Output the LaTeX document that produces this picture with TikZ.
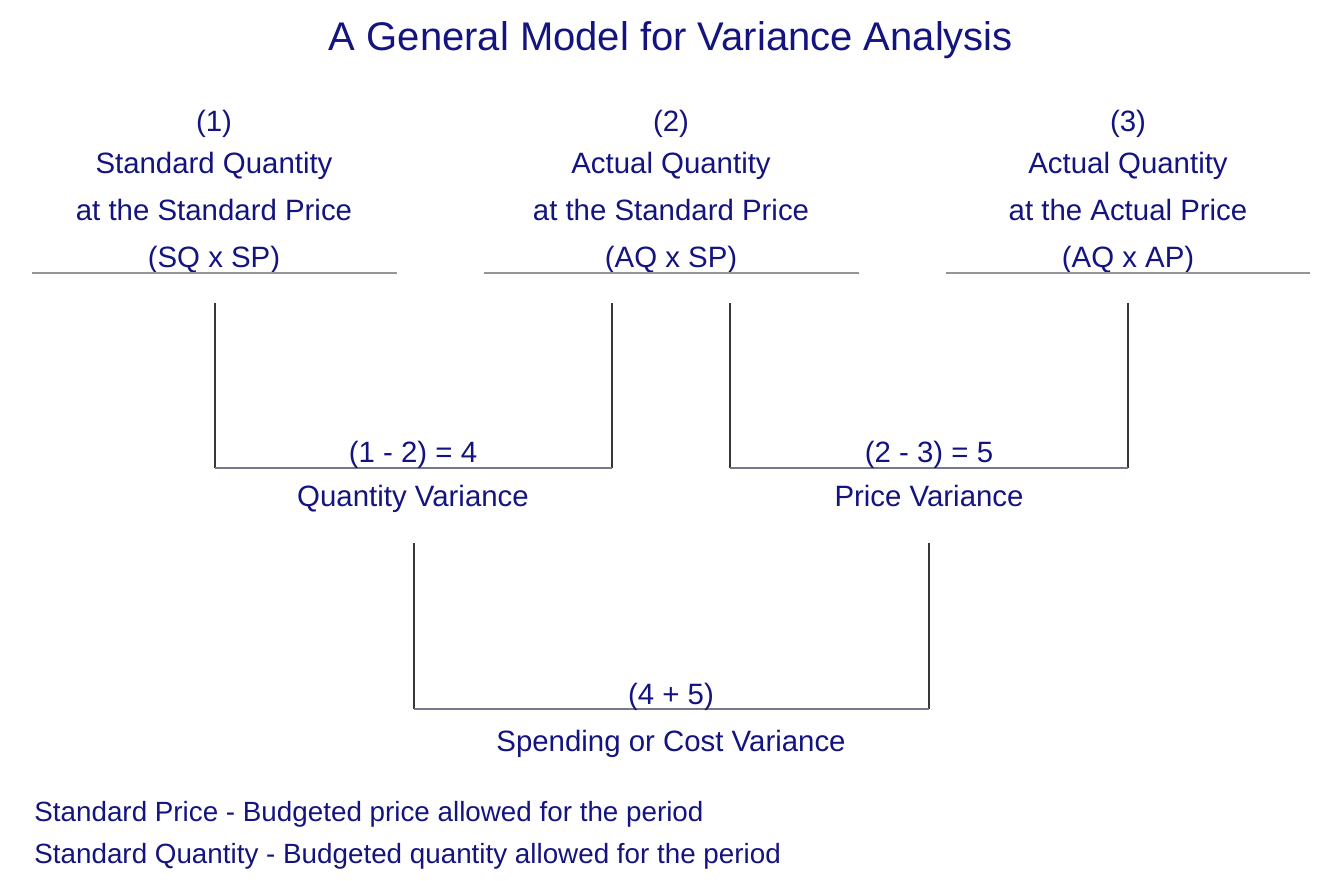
\documentclass[tikz,border=0pt]{standalone}
\usepackage{fontspec}
\setmainfont{Liberation Sans}
\definecolor{navy}{RGB}{20,20,128}
\definecolor{hline}{RGB}{150,150,150}
\definecolor{vline}{RGB}{55,55,55}
\definecolor{bline}{RGB}{120,120,140}
\begin{document}
\begin{tikzpicture}[x=0.5pt,y=-0.5pt,
  txt/.style={text=navy,font=\fontsize{14.7pt}{17pt}\selectfont,inner sep=0pt,anchor=base},
  ttl/.style={text=navy,font=\fontsize{20pt}{24pt}\selectfont,inner sep=0pt,anchor=base},
  note/.style={text=navy,font=\fontsize{13.9pt}{16pt}\selectfont,inner sep=0pt,anchor=base west},
  rule/.style={draw=hline,line width=1.1pt},
  upright/.style={draw=vline,line width=0.75pt},
  foot/.style={draw=bline,line width=0.75pt}]
\useasboundingbox (0,0) rectangle (1332,881);
\fill[white] (0,0) rectangle (1332,881);
% title
\node[ttl] (title) at (671,51) {A General Model for Variance Analysis};
% column 1
\node[txt] (c1a) at (214,132) {(1)};
\node[txt] (c1b) at (214,174) {Standard Quantity};
\node[txt] (c1c) at (214,221) {at the Standard Price};
\node[txt] (c1d) at (214,268) {(SQ x SP)};
% column 2
\node[txt] (c2a) at (671,132) {(2)};
\node[txt] (c2b) at (671,174) {Actual Quantity};
\node[txt] (c2c) at (671,221) {at the Standard Price};
\node[txt] (c2d) at (671,268) {(AQ x SP)};
% column 3
\node[txt] (c3a) at (1128,132) {(3)};
\node[txt] (c3b) at (1128,174) {Actual Quantity};
\node[txt] (c3c) at (1128,221) {at the Actual Price};
\node[txt] (c3d) at (1128,268) {(AQ x AP)};
% rules under columns
\coordinate (r1a) at (32,273);  \coordinate (r1b) at (397,273);
\coordinate (r2a) at (484,273); \coordinate (r2b) at (859,273);
\coordinate (r3a) at (946,273); \coordinate (r3b) at (1310,273);
\draw[rule] (r1a) -- (r1b);
\draw[rule] (r2a) -- (r2b);
\draw[rule] (r3a) -- (r3b);
% quantity variance bracket
\coordinate (q1t) at (215,303); \coordinate (q1b) at (215,468);
\coordinate (q2t) at (612,303); \coordinate (q2b) at (612,468);
\draw[upright] (q1t) -- (q1b);
\draw[upright] (q2t) -- (q2b);
\draw[foot] (q1b) -- (q2b);
\node[txt] (qv1) at (413,463) {(1 - 2) = 4};
\node[txt] (qv2) at (413,507) {Quantity Variance};
% price variance bracket
\coordinate (p1t) at (730,303); \coordinate (p1b) at (730,468);
\coordinate (p2t) at (1128,303); \coordinate (p2b) at (1128,468);
\draw[upright] (p1t) -- (p1b);
\draw[upright] (p2t) -- (p2b);
\draw[foot] (p1b) -- (p2b);
\node[txt] (pv1) at (929,463) {(2 - 3) = 5};
\node[txt] (pv2) at (929,507) {Price Variance};
% spending variance bracket
\coordinate (s1t) at (414,543); \coordinate (s1b) at (414,709);
\coordinate (s2t) at (929,543); \coordinate (s2b) at (929,709);
\draw[upright] (s1t) -- (s1b);
\draw[upright] (s2t) -- (s2b);
\draw[foot] (s1b) -- (s2b);
\node[txt] (sv1) at (671,704) {(4 + 5)};
\node[txt] (sv2) at (671,751) {Spending or Cost Variance};
% notes
\node[note] (n1) at (34,821) {Standard Price - Budgeted price allowed for the period};
\node[note] (n2) at (34,863) {Standard Quantity - Budgeted quantity allowed for the period};
\end{tikzpicture}
\end{document}
